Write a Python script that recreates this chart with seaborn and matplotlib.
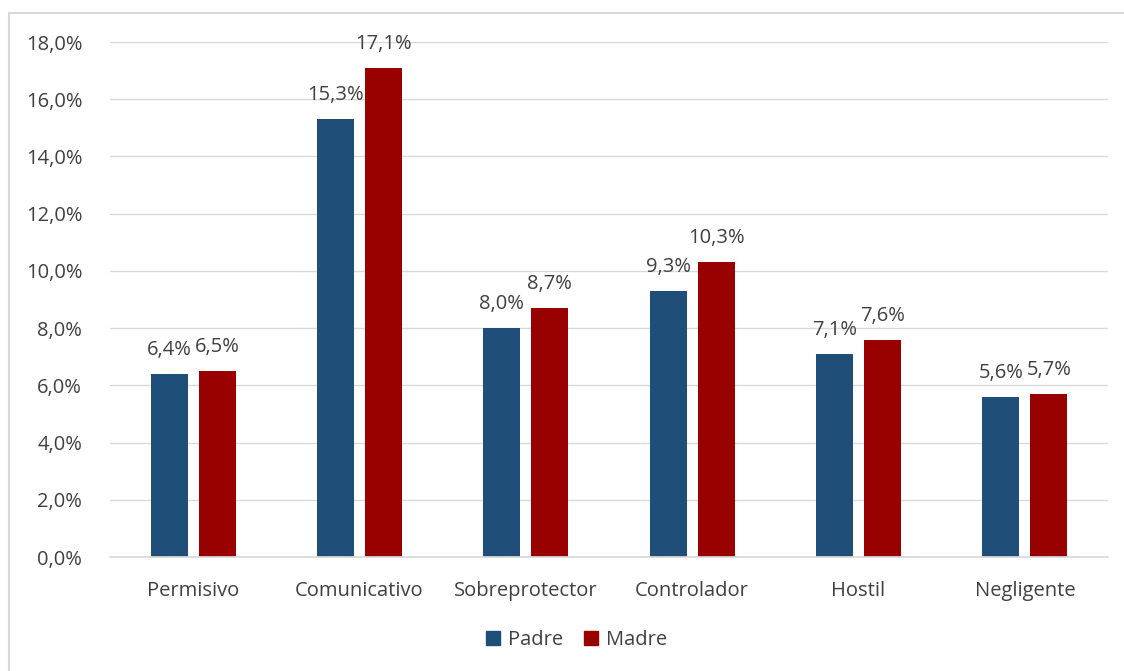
import matplotlib
matplotlib.use("Agg")
import matplotlib.pyplot as plt
from matplotlib.lines import Line2D
from matplotlib.patches import Patch
import seaborn as sns
import pandas as pd

categories = ["Permisivo", "Comunicativo", "Sobreprotector", "Controlador", "Hostil", "Negligente"]
padre = [6.4, 15.3, 8.0, 9.3, 7.1, 5.6]
madre = [6.5, 17.1, 8.7, 10.3, 7.6, 5.7]
series = ["Padre", "Madre"]
colors = ["#1F4E79", "#990000"]
yticks = [0, 2, 4, 6, 8, 10, 12, 14, 16, 18]

df = pd.DataFrame({
    "cat": categories * 2,
    "val": [v / 100 for v in padre + madre],
    "serie": ["Padre"] * len(categories) + ["Madre"] * len(categories),
})

sns.set_theme(style="white")
plt.rcParams["font.family"] = ["Open Sans", "DejaVu Sans"]
txt = "#404040"
fs = 14.5

fig = plt.figure(figsize=(11.24, 6.71), dpi=100)
ax = fig.add_axes([110 / 1124, 1 - 557 / 671, (1108 - 110) / 1124, (557 - 42) / 671])

sns.barplot(data=df, x="cat", y="val", hue="serie", hue_order=series,
            palette=colors, width=0.578, gap=0.23, saturation=1, ax=ax,
            legend=False, errorbar=None, linewidth=0)

ax.set_ylim(0, 0.18)
ax.set_yticks([t / 100 for t in yticks])
ax.set_yticklabels([f"{t:.1f}%".replace(".", ",") for t in yticks], color=txt, fontsize=fs)
ax.tick_params(axis="x", colors=txt, labelsize=fs, length=0, pad=17)
ax.tick_params(axis="y", length=0, pad=20)
ax.set_xlabel("")
ax.set_ylabel("")
ax.grid(axis="y", color="#D9D9D9", linewidth=1)
ax.set_axisbelow(True)
for s in ["top", "right", "left"]:
    ax.spines[s].set_visible(False)
ax.spines["bottom"].set_color("#D9D9D9")

for cont in ax.containers:
    ax.bar_label(cont, labels=[f"{b.get_height()*100:.1f}%".replace(".", ",") for b in cont],
                 padding=10, color=txt, fontsize=fs)

handles = [Patch(facecolor=c, edgecolor=c) for c in colors]
fig.legend(handles, series, loc="center", bbox_to_anchor=(0.513, 1 - 640 / 671), ncol=2,
           frameon=False, fontsize=fs, handlelength=0.7, handleheight=0.7,
           handletextpad=0.4, columnspacing=1.0, labelcolor=txt)

# chart frame lines
fig.add_artist(Line2D([8.5 / 1124, 8.5 / 1124], [0, 1 - 13 / 671], color="#D9D9D9", lw=1.5, transform=fig.transFigure))
fig.add_artist(Line2D([8.5 / 1124, 1], [1 - 13 / 671, 1 - 13 / 671], color="#D9D9D9", lw=1.5, transform=fig.transFigure))

fig.savefig("out.png", dpi=100)
